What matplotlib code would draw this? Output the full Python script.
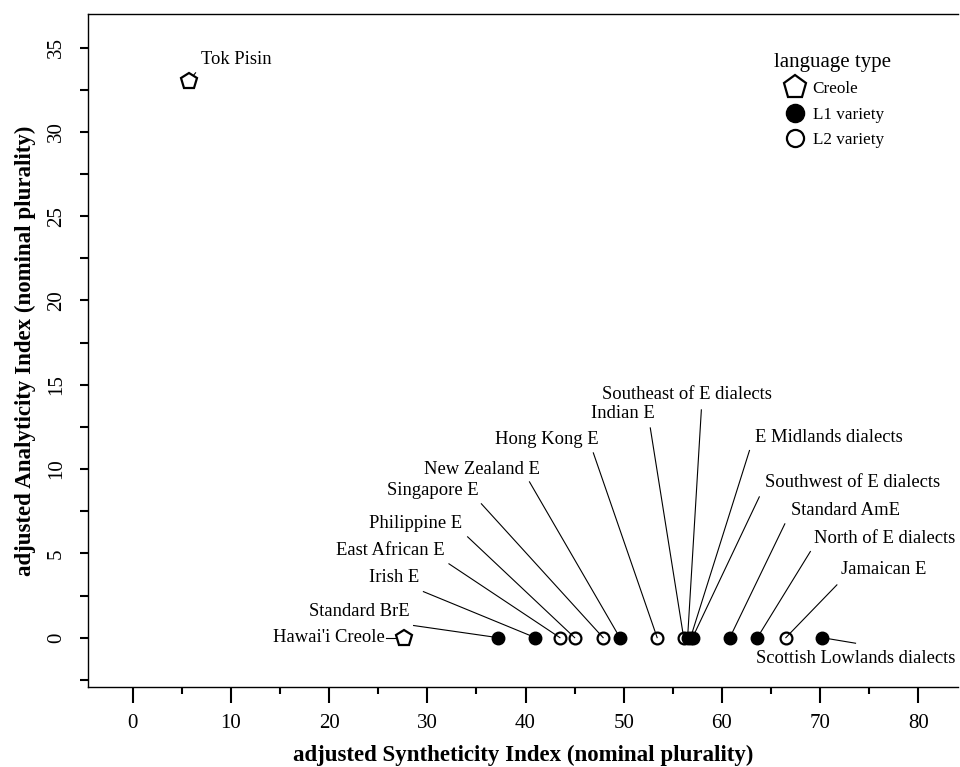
import matplotlib
matplotlib.use("Agg")
import matplotlib.pyplot as plt
from matplotlib.lines import Line2D
from matplotlib.ticker import MultipleLocator

plt.rcParams["font.family"] = ["Liberation Serif", "DejaVu Serif"]

# ----------------------------------------------------------------------
# data: adjusted synthetic / analytic indices per variety
# ----------------------------------------------------------------------
varieties = [
    "Tok Pisin", "Hawai'i Creole", "Standard BrE", "Irish E", "East African E",
    "Philippine E", "Singapore E", "New Zealand E", "Hong Kong E", "Indian E",
    "Southeast of E dialects", "E Midlands dialects", "Southwest of E dialects",
    "Standard AmE", "North of E dialects", "Jamaican E",
    "Scottish Lowlands dialects",
]
synthetic = [5.7, 27.6, 37.2, 41.0, 43.5, 45.0, 47.9, 49.6, 53.4, 56.1,
             56.5, 56.8, 57.0, 60.8, 63.6, 66.5, 70.2]
analytic = [33.0, 0, 0, 0, 0, 0, 0, 0, 0, 0, 0, 0, 0, 0, 0, 0, 0]
lang_type = ["Creole", "Creole", "L1", "L1", "L2", "L2", "L2", "L1", "L2", "L2",
             "L1", "L1", "L1", "L1", "L1", "L2", "L1"]

# label placement (text anchor, alignment, where the leader line starts)
label_pos = [(7.0, 34.3), (25.7, 0.0), (23.1, 1.55), (26.6, 3.55), (26.2, 5.17),
             (28.8, 6.75), (30.6, 8.72), (35.6, 9.95), (42.2, 11.73), (49.9, 13.27),
             (56.4, 14.40), (70.9, 11.88), (73.3, 9.18), (72.6, 7.54), (76.6, 5.90),
             (76.5, 4.02), (73.6, -1.25)]
label_ha = ["left", "right"] + ["center"] * 15
line_start = [(6.4, 33.5), (25.8, 0.0), (28.6, 0.72), (29.6, 2.73), (32.2, 4.38),
              (34.1, 5.98), (35.5, 7.94), (40.4, 9.24), (46.9, 10.96), (52.7, 12.44),
              (57.9, 13.51), (62.8, 11.10), (63.8, 8.35), (66.4, 6.75), (69.0, 5.11),
              (71.7, 3.13), (73.6, -0.33)]

STYLE = {
    "Creole": dict(marker="p", ms=12, mfc="white", mec="black", mew=1.6),
    "L1": dict(marker="o", ms=9, mfc="black", mec="black", mew=1.0),
    "L2": dict(marker="o", ms=8.5, mfc="none", mec="black", mew=1.6),
}
LEGEND_NAMES = {"Creole": "Creole", "L1": "L1 variety", "L2": "L2 variety"}

fig = plt.figure(figsize=(9.6, 7.67), dpi=100)
ax = fig.add_axes([0.092, 0.104, 0.906, 0.878])

for i, name in enumerate(varieties):
    x, y = synthetic[i], analytic[i]
    sx, sy = line_start[i]
    ax.plot([sx, x], [sy, y], color="black", lw=0.8, zorder=2)
    ax.text(label_pos[i][0], label_pos[i][1], name, ha=label_ha[i], va="center",
            fontsize=13.4, zorder=4)

for t in ["L1", "Creole", "L2"]:
    xs = [synthetic[i] for i in range(len(varieties)) if lang_type[i] == t]
    ys = [analytic[i] for i in range(len(varieties)) if lang_type[i] == t]
    ax.plot(xs, ys, ls="none", zorder=3, **STYLE[t])

ax.set_xlim(-4.52, 84.04)
ax.set_ylim(-2.94, 37.0)

ax.spines["right"].set_visible(False)
for s in ["left", "bottom", "top"]:
    ax.spines[s].set_linewidth(1.0)

ax.xaxis.set_major_locator(MultipleLocator(10))
ax.xaxis.set_minor_locator(MultipleLocator(5))
ax.yaxis.set_major_locator(MultipleLocator(5))
ax.yaxis.set_minor_locator(MultipleLocator(2.5))
ax.tick_params(axis="x", which="major", length=11.5, width=1.5, pad=8, labelsize=15)
ax.tick_params(axis="x", which="minor", length=5, width=1.5)
ax.tick_params(axis="y", which="major", length=6, width=1.5, pad=10, labelsize=15)
ax.tick_params(axis="y", which="minor", length=6, width=1.5)
for lab in ax.get_yticklabels():
    lab.set_rotation(90)
    lab.set_va("center")

ax.set_xlabel("adjusted Syntheticity Index (nominal plurality)",
              fontsize=16.5, fontweight="bold", labelpad=8)
ax.set_ylabel("adjusted Analyticity Index (nominal plurality)",
              fontsize=16.5, fontweight="bold", labelpad=8)

handles = [Line2D([], [], ls="none", **{**STYLE[t], "ms": STYLE[t]["ms"] * 1.45})
           for t in ["Creole", "L1", "L2"]]
ax.legend(handles, [LEGEND_NAMES[t] for t in ["Creole", "L1", "L2"]],
          title="language type", title_fontsize=15, fontsize=12.3,
          loc="upper left", bbox_to_anchor=(0.7745, 0.9595), frameon=False,
          handletextpad=0.25, labelspacing=0.55, borderpad=0.2, handlelength=1.6)

fig.savefig("out.png", dpi=100)
